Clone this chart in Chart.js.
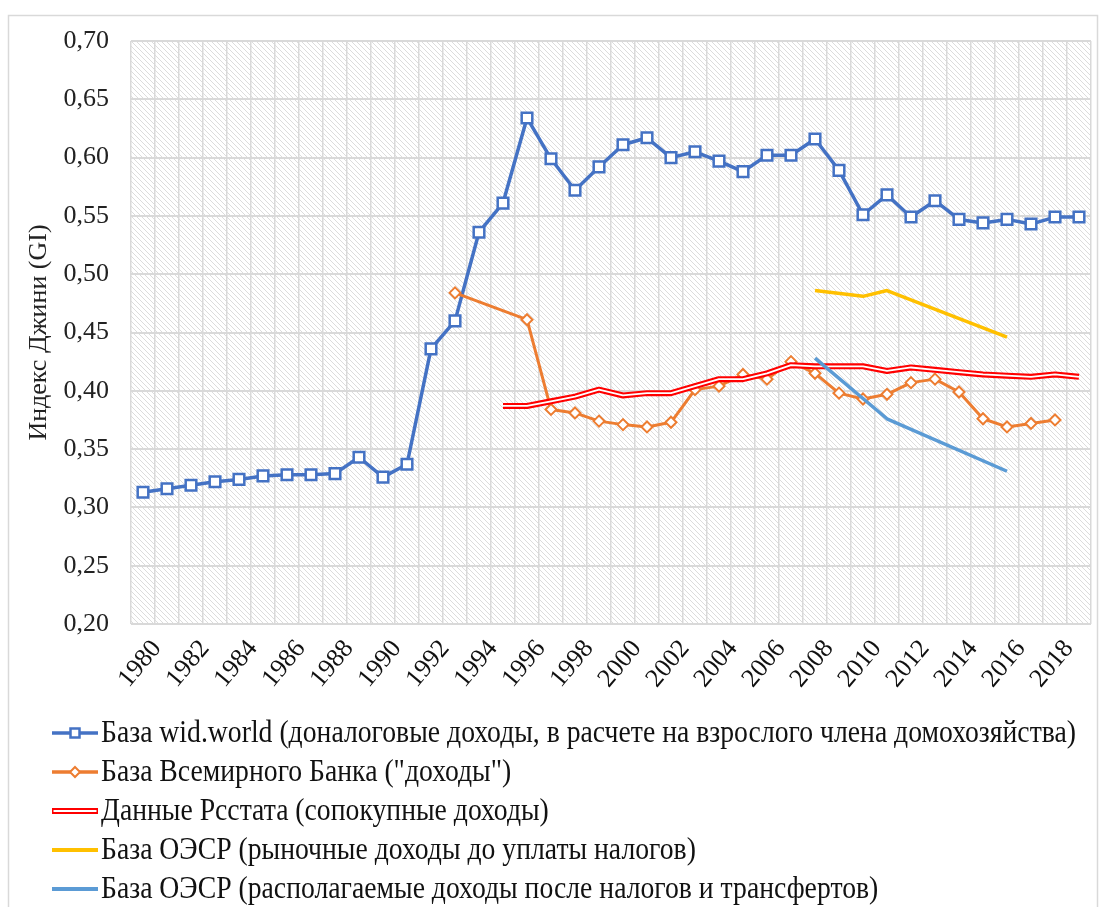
<!DOCTYPE html>
<html lang="ru">
<head>
<meta charset="utf-8">
<title>Индекс Джини</title>
<script src="https://cdn.jsdelivr.net/npm/chart.js@4.4.1/dist/chart.umd.min.js"></script>
<style>
  html, body { margin: 0; padding: 0; background: #fff; }
  #wrap { width: 1101px; height: 907px; }
</style>
</head>
<body>
<div id="wrap"><canvas id="graficoGini" width="1101" height="907"></canvas></div>
<script>
// Anos (categorias do eixo X)
const anos = ['1980','1981','1982','1983','1984','1985','1986','1987','1988','1989',
              '1990','1991','1992','1993','1994','1995','1996','1997','1998','1999',
              '2000','2001','2002','2003','2004','2005','2006','2007','2008','2009',
              '2010','2011','2012','2013','2014','2015','2016','2017','2018','2019'];

// Rótulos visíveis no eixo X
const xTickLabels = ['1980','1982','1984','1986','1988','1990','1992','1994','1996','1998',
                     '2000','2002','2004','2006','2008','2010','2012','2014','2016','2018'];

// Séries
const widWorld = [0.313,0.316,0.319,0.322,0.324,0.327,0.328,0.328,0.329,0.343,
                  0.326,0.337,0.436,0.460,0.536,0.561,0.634,0.599,0.572,0.592,
                  0.611,0.617,0.600,0.605,0.597,0.588,0.602,0.602,0.616,0.589,
                  0.551,0.568,0.549,0.563,0.547,0.544,0.547,0.543,0.549,0.549];

const bancoMundial = [null,null,null,null,null,null,null,null,null,null,
                      null,null,null,0.484,null,null,0.461,0.384,0.381,0.374,
                      0.371,0.369,0.373,0.401,0.404,0.414,0.410,0.425,0.415,0.398,
                      0.393,0.397,0.407,0.410,0.399,0.376,0.369,0.372,0.375,null];

const rosstat = [null,null,null,null,null,null,null,null,null,null,
                 null,null,null,null,null,0.387,0.387,0.391,0.395,0.401,
                 0.396,0.398,0.398,0.404,0.410,0.410,0.415,0.422,0.421,0.421,
                 0.421,0.417,0.420,0.418,0.416,0.414,0.413,0.412,0.414,0.412];

const oecdMercado = [null,null,null,null,null,null,null,null,null,null,
                     null,null,null,null,null,null,null,null,null,null,
                     null,null,null,null,null,null,null,null,0.486,null,
                     0.481,0.486,null,null,null,null,0.446,null,null,null];

const oecdDisponivel = [null,null,null,null,null,null,null,null,null,null,
                        null,null,null,null,null,null,null,null,null,null,
                        null,null,null,null,null,null,null,null,0.428,null,
                        null,0.376,null,null,null,null,0.331,null,null,null];

const nomesSeries = [
  'База wid.world (доналоговые доходы, в расчете на взрослого члена домохозяйства)',
  'База Всемирного Банка ("доходы")',
  'Данные Рсстата (сопокупные доходы)',
  'База ОЭСР (рыночные доходы до уплаты налогов)',
  'База ОЭСР (располагаемые доходы после налогов и трансфертов)'
];

const azul = '#4472C4';
const laranja = '#ED7D31';
const vermelho = '#FF0000';
const amarelo = '#FFC000';
const azulClaro = '#5B9BD5';
const fonte = '"Liberation Serif", "Times New Roman", serif';

// padrão hachurado do fundo da área do gráfico
function criarHachura() {
  const c = document.createElement('canvas');
  c.width = 5; c.height = 5;
  const p = c.getContext('2d');
  p.fillStyle = '#ffffff';
  p.fillRect(0, 0, 5, 5);
  p.strokeStyle = '#dcdcdc';
  p.lineWidth = 1;
  p.beginPath();
  for (let k = -5; k <= 5; k += 5) {
    p.moveTo(k, 0);
    p.lineTo(k + 5, 5);
  }
  p.stroke();
  return p.createPattern(c, 'repeat');
}

const fundoPlugin = {
  id: 'fundo',
  beforeDraw(chart) {
    const ctx = chart.ctx;
    const a = chart.chartArea;
    ctx.save();
    ctx.fillStyle = '#ffffff';
    ctx.fillRect(0, 0, chart.width, chart.height);
    ctx.strokeStyle = '#d9d9d9';
    ctx.lineWidth = 1.5;
    ctx.strokeRect(8.5, 15.5, 1089, 1000);
    ctx.fillStyle = criarHachura();
    ctx.fillRect(a.left, a.top, a.right - a.left, a.bottom - a.top);
    ctx.restore();
  }
};

function desenharMarcador(ctx, i, x0, x1, y) {
  const xm = (x0 + x1) / 2;
  ctx.save();
  ctx.lineCap = 'butt';
  if (i === 2) {
    ctx.strokeStyle = vermelho; ctx.lineWidth = 6;
    ctx.beginPath(); ctx.moveTo(x0, y); ctx.lineTo(x1, y); ctx.stroke();
    ctx.strokeStyle = '#ffffff'; ctx.lineWidth = 2;
    ctx.beginPath(); ctx.moveTo(x0 + 1.5, y); ctx.lineTo(x1 - 1.5, y); ctx.stroke();
  } else {
    const cor = [azul, laranja, vermelho, amarelo, azulClaro][i];
    ctx.strokeStyle = cor; ctx.lineWidth = i < 2 ? 3.5 : 4;
    ctx.beginPath(); ctx.moveTo(x0, y); ctx.lineTo(x1, y); ctx.stroke();
    if (i === 0) {
      ctx.fillStyle = '#fff'; ctx.lineWidth = 2.5;
      ctx.fillRect(xm - 4.5, y - 4.5, 9, 9);
      ctx.strokeRect(xm - 4.5, y - 4.5, 9, 9);
    } else if (i === 1) {
      ctx.fillStyle = '#fff'; ctx.lineWidth = 2;
      ctx.beginPath();
      ctx.moveTo(xm, y - 5); ctx.lineTo(xm + 5, y); ctx.lineTo(xm, y + 5); ctx.lineTo(xm - 5, y);
      ctx.closePath(); ctx.fill(); ctx.stroke();
    }
  }
  ctx.restore();
}

// legenda desenhada abaixo do gráfico, uma série por linha
const legendaPlugin = {
  id: 'legenda',
  afterDraw(chart) {
    const ctx = chart.ctx;
    ctx.save();
    ctx.font = '32px ' + fonte;
    const escala = 975 / ctx.measureText(nomesSeries[0]).width;
    nomesSeries.forEach((nome, i) => {
      const y = 733 + i * 39;
      desenharMarcador(ctx, i, 52, 98, y);
      ctx.save();
      ctx.translate(101, y);
      ctx.scale(escala, 1);
      ctx.fillStyle = '#111';
      ctx.textBaseline = 'middle';
      ctx.fillText(nome, 0, 1);
      ctx.restore();
    });
    ctx.restore();
  }
};

const ctx = document.getElementById('graficoGini').getContext('2d');

const graficoGini = new Chart(ctx, {
  type: 'line',
  data: {
    labels: anos,
    datasets: [
      {
        label: nomesSeries[0],
        data: widWorld,
        borderColor: azul,
        borderWidth: 3.5,
        pointStyle: 'rect',
        pointRadius: 7.5,
        pointBorderWidth: 2.5,
        pointBackgroundColor: '#ffffff',
        pointBorderColor: azul,
        order: 6
      },
      {
        label: nomesSeries[1],
        data: bancoMundial,
        borderColor: laranja,
        borderWidth: 3,
        pointStyle: 'rectRot',
        pointRadius: 5.5,
        pointBorderWidth: 2,
        pointBackgroundColor: '#ffffff',
        pointBorderColor: laranja,
        spanGaps: true,
        order: 5
      },
      {
        label: nomesSeries[2],
        data: rosstat,
        borderColor: vermelho,
        borderWidth: 6,
        pointRadius: 0,
        spanGaps: true,
        order: 4
      },
      {
        label: nomesSeries[2] + ' (линия)',
        data: rosstat,
        borderColor: '#ffffff',
        borderWidth: 1.8,
        pointRadius: 0,
        spanGaps: true,
        order: 3
      },
      {
        label: nomesSeries[3],
        data: oecdMercado,
        borderColor: amarelo,
        borderWidth: 3.5,
        pointRadius: 0,
        spanGaps: true,
        order: 2
      },
      {
        label: nomesSeries[4],
        data: oecdDisponivel,
        borderColor: azulClaro,
        borderWidth: 3.5,
        pointRadius: 0,
        spanGaps: true,
        order: 1
      }
    ]
  },
  options: {
    responsive: false,
    animation: false,
    devicePixelRatio: 1,
    layout: { padding: { top: 41, right: 9, bottom: 0, left: 0 } },
    plugins: {
      legend: { display: false },
      tooltip: { enabled: false }
    },
    elements: { line: { tension: 0, borderJoinStyle: 'round' } },
    scales: {
      x: {
        offset: true,
        grid: { color: '#d9d9d9', lineWidth: 1.5, offset: true, drawTicks: false },
        border: { display: false },
        ticks: {
          autoSkip: false,
          minRotation: 50,
          maxRotation: 50,
          padding: 10,
          labelOffset: 14,
          color: '#111',
          font: { family: fonte, size: 26 },
          callback: function (value) {
            const ano = this.getLabelForValue(value);
            return xTickLabels.includes(ano) ? ano : '';
          }
        },
        afterFit(scale) {
          scale.height = 283;
          scale.paddingLeft = 0;
          scale.paddingRight = 0;
        }
      },
      y: {
        min: 0.2,
        max: 0.7,
        grid: { color: '#d9d9d9', lineWidth: 2, drawTicks: false },
        border: { display: false },
        ticks: {
          stepSize: 0.05,
          padding: 22,
          color: '#222',
          font: { family: fonte, size: 26 },
          callback: (v) => v.toFixed(2).replace('.', ',')
        },
        title: {
          display: true,
          text: 'Индекс Джини (GI)',
          color: '#222',
          font: { family: fonte, size: 26 },
          padding: { top: 24, bottom: 0 }
        },
        afterFit(scale) { scale.width = 131; }
      }
    }
  },
  plugins: [fundoPlugin, legendaPlugin]
});
</script>
</body>
</html>
